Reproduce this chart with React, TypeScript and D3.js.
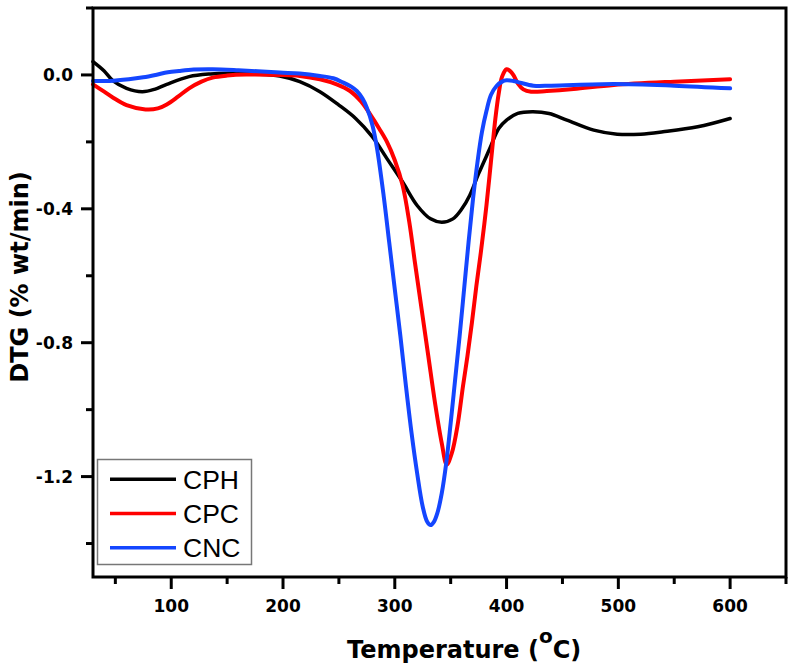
import React from "react";
import * as d3 from "d3";

// ---- data ----
const seriesNames = ["CPH", "CPC", "CNC"];
const seriesColors = ["#000000", "#ff0000", "#1446ff"];

const cphT = [30, 40, 48, 60, 74, 85, 96, 116, 135, 152, 175, 197, 215, 233, 250, 265, 280, 293, 307, 320, 332, 342, 352, 360, 367, 375, 385, 393, 400, 410, 423, 438, 454, 478, 499, 520, 540, 571, 600];
const cphV = [0.04, 0.012, -0.018, -0.04, -0.05, -0.043, -0.028, -0.005, 0.003, 0.005, 0.003, -0.003, -0.02, -0.05, -0.09, -0.13, -0.185, -0.25, -0.32, -0.39, -0.43, -0.44, -0.43, -0.4, -0.36, -0.295, -0.22, -0.16, -0.135, -0.115, -0.11, -0.115, -0.135, -0.165, -0.177, -0.177, -0.17, -0.155, -0.13];

const cpcT = [30, 40, 48, 60, 77, 88, 96, 106, 116, 127, 137, 150, 167, 197, 215, 233, 248, 260, 270, 278, 286, 293, 300, 307, 313, 318, 324, 330, 336, 342, 346.5, 351, 356, 361, 365, 369, 373, 377, 382, 386, 390, 393, 396, 400, 403, 406, 410, 415, 422, 436, 460, 496, 550, 600];
const cpcV = [-0.028, -0.05, -0.068, -0.09, -0.103, -0.1, -0.088, -0.065, -0.04, -0.02, -0.008, -0.002, 0.001, 0.0, -0.003, -0.013, -0.028, -0.048, -0.08, -0.118, -0.16, -0.2, -0.255, -0.33, -0.44, -0.56, -0.7, -0.84, -0.98, -1.1, -1.164, -1.13, -1.05, -0.93, -0.84, -0.74, -0.63, -0.53, -0.39, -0.26, -0.13, -0.055, -0.005, 0.017, 0.012, 0.0, -0.025, -0.043, -0.05, -0.048, -0.042, -0.03, -0.02, -0.013];

const cncT = [30, 45, 62, 75, 86, 97, 107, 120, 137, 160, 197, 215, 233, 245, 254, 261, 266, 271, 275, 280, 284, 290, 295, 300, 305, 310, 315, 320, 325, 329, 332, 335, 338, 342, 346, 350, 354, 358, 362, 366, 370, 374, 378, 382, 386, 391, 396, 400, 406, 412, 424, 440, 496, 550, 600];
const cncV = [-0.018, -0.018, -0.013, -0.007, 0.0, 0.008, 0.012, 0.016, 0.017, 0.014, 0.007, 0.004, -0.003, -0.01, -0.023, -0.035, -0.048, -0.07, -0.098, -0.15, -0.217, -0.36, -0.5, -0.64, -0.78, -0.93, -1.07, -1.19, -1.29, -1.335, -1.345, -1.335, -1.31, -1.25, -1.16, -1.04, -0.91, -0.78, -0.64, -0.5, -0.37, -0.26, -0.17, -0.108, -0.06, -0.033, -0.02, -0.016, -0.018, -0.023, -0.032, -0.032, -0.027, -0.032, -0.04];

const xMajorTicks = [100, 200, 300, 400, 500, 600];
const xMinorTicks = [50, 150, 250, 350, 450, 550, 650];
const yMajorTicks = [0.0, -0.4, -0.8, -1.2];
const yMinorTicks = [0.2, -0.2, -0.6, -1.0, -1.4];

const xDomain = [30, 650];
const yDomain = [-1.5, 0.2];

export default function App() {
  const left = 93, right = 786, top = 8, bottom = 577;
  const x = d3.scaleLinear().domain(xDomain).range([left, right]);
  const y = d3.scaleLinear().domain(yDomain).range([bottom, top]);

  const series = [
    { T: cphT, V: cphV },
    { T: cpcT, V: cpcV },
    { T: cncT, V: cncV },
  ];
  const line = d3
    .line<[number, number]>()
    .x((d) => x(d[0]))
    .y((d) => y(d[1]))
    .curve(d3.curveCatmullRom.alpha(0.5));

  const bold = "'DejaVu Sans', Verdana, sans-serif";
  const fmt = (v: number) => d3.format(".1f")(v).replace("\u2212", "-");

  return (
    <svg
      width={792}
      height={672}
      style={{ position: "absolute", left: 0, top: 0, background: "#fff" }}
    >
      <rect x={0} y={0} width={792} height={672} fill="#fff" />
      {/* curves */}
      {series.map((s, i) => (
        <path
          key={seriesNames[i]}
          d={line(s.T.map((t, j) => [t, s.V[j]] as [number, number])) || ""}
          fill="none"
          stroke={seriesColors[i]}
          strokeWidth={i === 0 ? 3.5 : 4}
          strokeLinejoin="round"
          strokeLinecap="round"
        />
      ))}

      {/* frame */}
      <rect
        x={left}
        y={top}
        width={right - left}
        height={bottom - top}
        fill="none"
        stroke="#000"
        strokeWidth={3}
      />

      {/* x ticks */}
      {xMajorTicks.map((t) => (
        <g key={"xm" + t}>
          <line x1={x(t)} x2={x(t)} y1={bottom} y2={bottom + 12} stroke="#000" strokeWidth={3} />
          <text
            x={x(t)}
            y={612}
            textAnchor="middle"
            fontFamily={bold}
            fontWeight="bold"
            fontSize={17}
            fill="#000"
          >
            {t}
          </text>
        </g>
      ))}
      {xMinorTicks.map((t) => (
        <line key={"xn" + t} x1={x(t)} x2={x(t)} y1={bottom} y2={bottom + 7} stroke="#000" strokeWidth={3} />
      ))}

      {/* y ticks */}
      {yMajorTicks.map((t) => (
        <g key={"ym" + t}>
          <line x1={left - 12} x2={left} y1={y(t)} y2={y(t)} stroke="#000" strokeWidth={3} />
          <text
            x={73}
            y={y(t) + 6}
            textAnchor="end"
            fontFamily={bold}
            fontWeight="bold"
            fontSize={17}
            fill="#000"
          >
            {fmt(t)}
          </text>
        </g>
      ))}
      {yMinorTicks.map((t) => (
        <line key={"yn" + t} x1={left - 7} x2={left} y1={y(t)} y2={y(t)} stroke="#000" strokeWidth={3} />
      ))}

      {/* axis titles */}
      <text
        x={347}
        y={658}
        fontFamily={bold}
        fontWeight="bold"
        fontSize={24}
        fill="#000"
      >
        Temperature (
        <tspan fontSize={20} dy={-15}>o</tspan>
        <tspan fontSize={24} dy={15}>C)</tspan>
      </text>
      <text
        transform="translate(28,277) rotate(-90)"
        textAnchor="middle"
        fontFamily={bold}
        fontWeight="bold"
        fontSize={24}
        fill="#000"
      >
        DTG (% wt/min)
      </text>

      {/* legend */}
      <rect x={97.5} y={459.5} width={154} height={105} fill="#fff" stroke="#777" strokeWidth={1.5} />
      {seriesNames.map((n, i) => {
        const ly = 479.3 + i * 34.2;
        return (
          <g key={"lg" + n}>
            <line x1={110} x2={176} y1={ly} y2={ly} stroke={seriesColors[i]} strokeWidth={3.5} />
            <text
              x={183}
              y={ly + 9.5}
              fontFamily="'Liberation Sans', Arial, sans-serif"
              fontSize={26.5}
              fill="#000"
            >
              {n}
            </text>
          </g>
        );
      })}
    </svg>
  );
}
